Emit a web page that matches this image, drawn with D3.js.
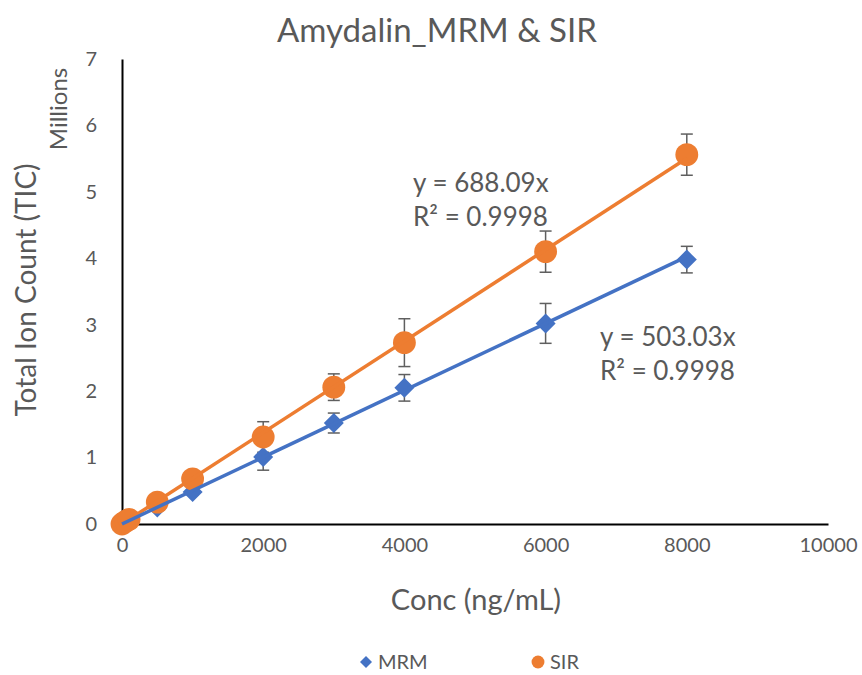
<!DOCTYPE html>
<html>
<head>
<meta charset="utf-8">
<script src="https://cdn.jsdelivr.net/npm/d3@7"></script>
<style>
  body { margin: 0; background: #fff; }
  text { font-family: Lato, "Open Sans", sans-serif; fill: #595959; }
</style>
</head>
<body>
<svg id="chart" width="862" height="675"></svg>
<script>
// values (counts in millions)
var conc = [0, 50, 100, 500, 1000, 2000, 3000, 4000, 6000, 8000];
var mrm = [0, 0.03, 0.05, 0.25, 0.48, 1.01, 1.52, 2.05, 3.02, 3.98];
var mrmErr = [0, 0, 0, 0.02, 0.04, 0.2, 0.15, 0.2, 0.3, 0.2];
var sir = [0, 0.04, 0.07, 0.33, 0.68, 1.31, 2.06, 2.73, 4.10, 5.56];
var sirErr = [0, 0, 0.01, 0.03, 0.05, 0.23, 0.2, 0.36, 0.31, 0.31];
var xTicks = [0, 2000, 4000, 6000, 8000, 10000];
var yTicks = [0, 1, 2, 3, 4, 5, 6, 7];
var slopes = { MRM: 503.03, SIR: 688.09 };

var svg = d3.select('#chart');
var x = d3.scaleLinear().domain([0, 10000]).range([122, 828]);
var y = d3.scaleLinear().domain([0, 7]).range([524, 59]);

// diamond = square turned 45 degrees
var series = [
	{ name: 'MRM', vals: mrm, err: mrmErr, color: '#4472C4', shape: d3.symbolSquare, rot: 45, size: 200 },
	{ name: 'SIR', vals: sir, err: sirErr, color: '#ED7D31', shape: d3.symbolCircle, rot: 0, size: 410 }
];

// title
svg.append('text')
	.attr('x', 437).attr('y', 42)
	.attr('text-anchor', 'middle')
	.style('font-size', '33px')
	.text('Amydalin_MRM & SIR');

// axes
var xAxis = svg.append('g').attr('transform', 'translate(0,524)')
	.call(d3.axisBottom(x).tickValues(xTicks).tickSize(0).tickPadding(14).tickFormat(d3.format('d')));
var yAxis = svg.append('g').attr('transform', 'translate(122,0)')
	.call(d3.axisLeft(y).tickValues(yTicks).tickSize(0).tickPadding(25).tickFormat(d3.format('d')));
[xAxis, yAxis].forEach(function(g){
	g.select('.domain').attr('stroke', '#000').attr('stroke-width', 2);
	g.selectAll('text').style('font-size', '20px').attr('fill', '#595959')
		.style('font-family', 'Lato, "Open Sans", sans-serif');
});

// axis titles
svg.append('text')
	.attr('x', 476).attr('y', 610)
	.attr('text-anchor', 'middle')
	.style('font-size', '29px')
	.text('Conc (ng/mL)');
svg.append('text')
	.attr('transform', 'translate(36,290) rotate(-90)')
	.attr('text-anchor', 'middle')
	.style('font-size', '28px')
	.text('Total Ion Count (TIC)');
svg.append('text')
	.attr('transform', 'translate(67,109) rotate(-90)')
	.attr('text-anchor', 'middle')
	.style('font-size', '24px')
	.text('Millions');

// error bars
series.forEach(function(s){
	var g = svg.append('g');
	conc.forEach(function(c, i){
		if (s.err[i] <= 0) return;
		var cx = x(c), t = y(s.vals[i] + s.err[i]), b = y(s.vals[i] - s.err[i]);
		g.append('line').attr('x1', cx).attr('x2', cx).attr('y1', t).attr('y2', b)
			.attr('stroke', '#5f5f5f').attr('stroke-width', 1.5);
		[t, b].forEach(function(yy){
			g.append('line').attr('x1', cx - 6).attr('x2', cx + 6).attr('y1', yy).attr('y2', yy)
				.attr('stroke', '#5f5f5f').attr('stroke-width', 1.5);
		});
	});
});

// markers
series.forEach(function(s){
	svg.append('g').selectAll('path')
		.data(conc.map(function(c, i){ return { c: c, v: s.vals[i] }; }))
		.enter()
		.append('path')
		.attr('transform', function(d){ return 'translate(' + x(d.c) + ',' + y(d.v) + ') rotate(' + s.rot + ')'; })
		.attr('d', d3.symbol().type(s.shape).size(s.size))
		.attr('fill', s.color);
});

// linear trendlines through origin
series.slice().reverse().forEach(function(s){
	var k = slopes[s.name] / 1e6;
	svg.append('line')
		.attr('x1', x(0)).attr('y1', y(0))
		.attr('x2', x(8000)).attr('y2', y(8000 * k))
		.attr('stroke', s.color).attr('stroke-width', 3.5);
});

// trendline equations
var eqs = [
	{ x: 413, y: 192, lines: ['y = 688.09x', 'R² = 0.9998'] },
	{ x: 600, y: 346, lines: ['y = 503.03x', 'R² = 0.9998'] }
];
eqs.forEach(function(e){
	e.lines.forEach(function(t, j){
		svg.append('text').attr('x', e.x).attr('y', e.y + j * 34)
			.style('font-size', '26px').text(t);
	});
});

// legend
var legend = [
	{ s: series[0], x: 366, size: 72 },
	{ s: series[1], x: 538, size: 130 }
];
legend.forEach(function(l){
	svg.append('path')
		.attr('transform', 'translate(' + l.x + ',662) rotate(' + l.s.rot + ')')
		.attr('d', d3.symbol().type(l.s.shape).size(l.size))
		.attr('fill', l.s.color);
	svg.append('text').attr('x', l.x + 12).attr('y', 669)
		.style('font-size', '20px').text(l.s.name);
});
</script>
</body>
</html>
